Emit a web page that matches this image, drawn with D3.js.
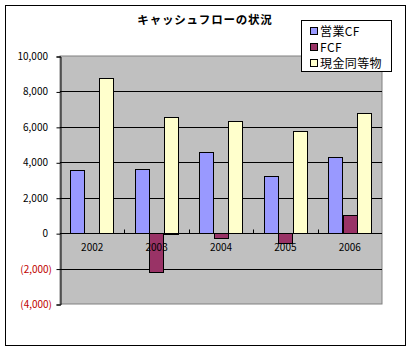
<!DOCTYPE html>
<html><head><meta charset="utf-8">
<script src="https://cdn.jsdelivr.net/npm/d3@7"></script>
<style>
body{margin:0;background:#fff;}
svg text{font-family:"Noto Sans CJK JP","DejaVu Sans",sans-serif;}
</style></head>
<body><svg id="c" width="412" height="351"></svg>
<script>
const years = ["2002","2003","2004","2005","2006"];
const seriesNames = ["営業CF","FCF","現金同等物"];
const opCF = [3560, 3600, 4560, 3230, 4310];
const fcf = [0, -2200, -280, -560, 1010];
const cash = [8750, 6580, 6320, 5760, 6770];
const yTicks = [-4000,-2000,0,2000,4000,6000,8000,10000];
const title = "キャッシュフローの状況";
const colors = ["#9999FF","#993366","#FFFFCC"];

const seriesVals = [opCF, fcf, cash];
const svg = d3.select("#c");
const L=60,R=382,T=56,B=304;

svg.append("rect").attr("x",5.5).attr("y",5.5).attr("width",400).attr("height",340)
  .attr("fill","#fff").attr("stroke","#000");

const x0 = d3.scaleBand().domain(years).range([L,R]).paddingInner(0.325).paddingOuter(0.1625);
const x1 = d3.scaleBand().domain(seriesNames).range([0,x0.bandwidth()]);
const y = d3.scaleLinear().domain([-4000,10000]).range([B,T]);

svg.append("rect").attr("x",L).attr("y",T).attr("width",R-L).attr("height",B-T)
  .attr("fill","#C0C0C0").attr("stroke","#808080");

// gridlines
svg.append("g").selectAll("line").data(yTicks.filter(v=>v!==-4000 && v!==10000)).join("line")
  .attr("x1",L).attr("x2",R).attr("y1",d=>Math.round(y(d))+0.5).attr("y2",d=>Math.round(y(d))+0.5)
  .attr("stroke","#000");

// bars
const g = svg.append("g");
years.forEach((yr,i)=>{
  seriesNames.forEach((s,j)=>{
    const v = seriesVals[j][i];
    if (v===0) return;
    const xx = x0(yr)+x1(s);
    g.append("rect").attr("x",Math.round(xx)+0.5).attr("width",Math.round(x1.bandwidth()))
      .attr("y",Math.round(Math.min(y(v),y(0)))+0.5).attr("height",Math.round(Math.abs(y(v)-y(0))))
      .attr("fill",colors[j]).attr("stroke","#000");
  });
});

// y axis
const yAxis = d3.axisLeft(y).tickValues(yTicks).tickSize(4).tickFormat("");
const ya = svg.append("g").attr("transform",`translate(${L+0.5},0.5)`).call(yAxis);
ya.select(".domain").attr("stroke","#000");
ya.selectAll(".tick line").attr("stroke","#000");
svg.append("g").selectAll("text").data(yTicks).join("text")
  .attr("x",d=>d<0?52:48).attr("y",d=>y(d)+4).attr("text-anchor","end")
  .attr("font-size",10).attr("fill",d=>d<0?"#C00000":"#000")
  .text(d=>d<0?"("+d3.format(",")(-d)+")":d3.format(",")(d));

// x axis at 0
const y0 = Math.round(y(0))+0.5;
svg.append("line").attr("x1",L).attr("x2",R).attr("y1",y0).attr("y2",y0).attr("stroke","#000");
const bounds = years.slice(0,-1).map(yr=>x0(yr)+x0.step()-(x0.step()-x0.bandwidth())/2);
svg.append("g").selectAll("line").data(bounds).join("line")
  .attr("x1",d=>Math.round(d)+0.5).attr("x2",d=>Math.round(d)+0.5).attr("y1",y0-4).attr("y2",y0).attr("stroke","#000");
svg.append("g").selectAll("text").data(years).join("text")
  .attr("x",d=>x0(d)+x0.bandwidth()/2).attr("y",y0+17).attr("text-anchor","middle")
  .attr("font-size",10).text(d=>d);

// title
svg.append("text").attr("x",205).attr("y",24).attr("text-anchor","middle")
  .attr("font-size",11.5).attr("font-weight","bold").attr("letter-spacing",0.8).text(title);

// legend
svg.append("rect").attr("x",301.5).attr("y",20.5).attr("width",90).attr("height",51)
  .attr("fill","#fff").attr("stroke","#000");
const lg = svg.append("g").selectAll("g").data(seriesNames).join("g")
  .attr("transform",(d,i)=>`translate(310,${31+i*16})`);
lg.append("rect").attr("x",0.5).attr("y",-3.5).attr("width",7).attr("height",7)
  .attr("fill",(d,i)=>colors[i]).attr("stroke","#000");
lg.append("text").attr("x",10).attr("y",4.5).attr("font-size",12).attr("letter-spacing",0.4).text(d=>d);
</script></body></html>
